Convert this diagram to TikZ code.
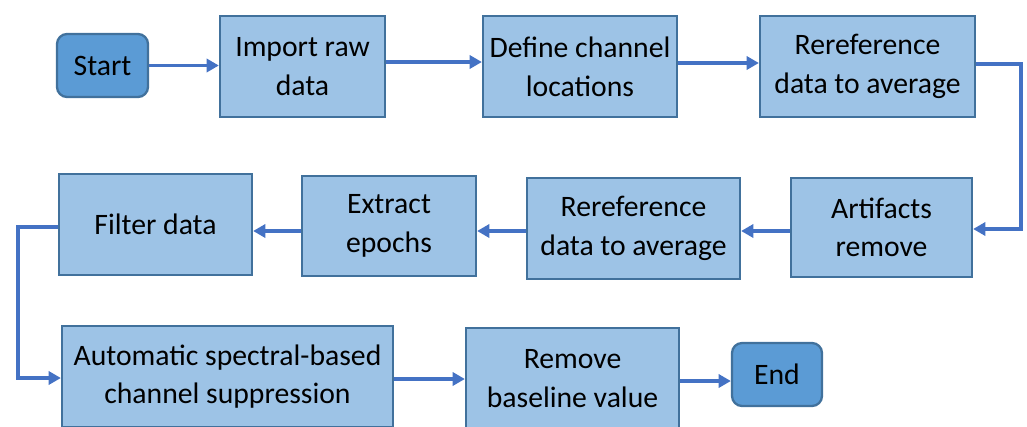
\documentclass[tikz,border=0pt]{standalone}
\usepackage{fontspec}
\setmainfont{Carlito}
\usetikzlibrary{arrows.meta}
\definecolor{boxfill}{HTML}{9DC3E6}
\definecolor{termfill}{HTML}{5B9BD5}
\definecolor{boxline}{HTML}{41719C}
\definecolor{flowline}{HTML}{4472C4}
\begin{document}
\begin{tikzpicture}[x=0.02cm,y=-0.02cm,
  stage/.style={draw=boxline,fill=boxfill,line width=1.3pt,align=center,inner sep=0pt,
    font=\fontsize{16.9}{22}\selectfont},
  term/.style={stage,fill=termfill,rounded corners=0.2cm},
  flow/.style={draw=flowline,line width=2pt,-{Triangle[length=7pt,width=7.5pt]}}]
\useasboundingbox (0,0) rectangle (1027,426);
% first row
\node[term,minimum width=1.82cm,minimum height=1.26cm] (start) at (102.5,65.5) {Start};
\node[stage,minimum width=3.30cm,minimum height=2.02cm] (import) at (302.5,66.5) {Import raw\\data};
\node[stage,minimum width=3.88cm,minimum height=2.02cm] (define) at (580,66.5) {Define channel\\locations};
\node[stage,minimum width=4.30cm,minimum height=2.02cm] (reref1) at (867.5,66.5) {Rereference\\data to average};
% second row
\node[stage,minimum width=3.62cm,minimum height=1.98cm] (artif) at (881.5,227.5) {Artifacts\\remove};
\node[stage,minimum width=4.26cm,minimum height=2.02cm] (reref2) at (633.5,228.5) {Rereference\\data to average};
\node[stage,minimum width=3.48cm,minimum height=2.00cm] (extract) at (389,226) {Extract\\epochs};
\node[stage,minimum width=3.86cm,minimum height=2.02cm] (filter) at (155.5,224.5) {Filter data};
% third row
\node[stage,minimum width=6.62cm,minimum height=2.02cm] (auto) at (227.5,376.5) {Automatic spectral-based\\channel suppression};
\node[stage,minimum width=4.26cm,minimum height=2.02cm] (remove) at (572.5,378.5) {Remove\\baseline value};
\node[term,minimum width=1.80cm,minimum height=1.26cm] (end) at (777,374.5) {End};
% turning points
\coordinate (turnr) at (1021,229);
\coordinate (turnl) at (18,378);
% connectors
\draw[flow] (start.east) -- (import.west |- start.east);
\draw[flow] (import.east |- 0,62) -- (define.west |- 0,62);
\draw[flow] (define.east |- 0,63) -- (reref1.west |- 0,63);
\draw[flow] (reref1.east |- 0,64) -| (turnr) -- (artif.east |- turnr);
\draw[flow] (artif.west |- 0,231) -- (reref2.east |- 0,231);
\draw[flow] (reref2.west |- 0,231) -- (extract.east |- 0,231);
\draw[flow] (extract.west |- 0,231) -- (filter.east |- 0,231);
\draw[flow] (filter.west |- 0,227) -| (turnl) -- (auto.west |- turnl);
\draw[flow] (auto.east |- 0,379) -- (remove.west |- 0,379);
\draw[flow] (remove.east |- 0,381) -- (end.west |- 0,381);
\end{tikzpicture}
\end{document}
